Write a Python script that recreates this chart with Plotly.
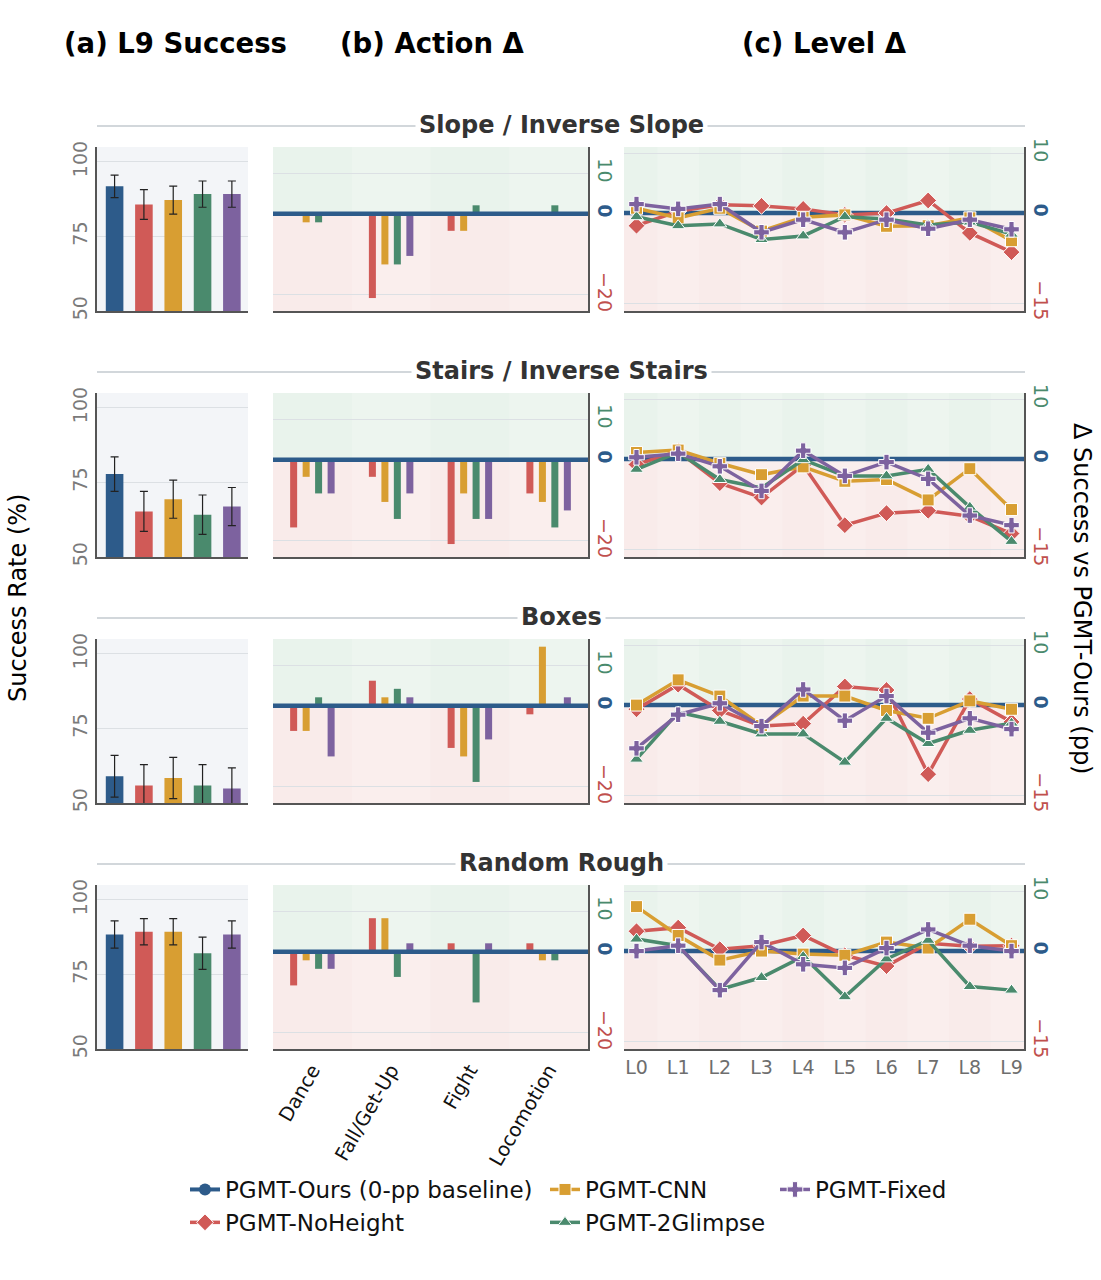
import plotly.graph_objects as go

W, H = 1101, 1280
FONT = "DejaVu Sans"

# ---------------- data ----------------
models = ["PGMT-Ours", "PGMT-NoHeight", "PGMT-CNN", "PGMT-2Glimpse", "PGMT-Fixed"]
delta_models = ["PGMT-NoHeight", "PGMT-CNN", "PGMT-2Glimpse", "PGMT-Fixed"]
terrains = ["Slope / Inverse Slope", "Stairs / Inverse Stairs", "Boxes", "Random Rough"]
actions = ["Dance", "Fall/Get-Up", "Fight", "Locomotion"]
levels = ["L0", "L1", "L2", "L3", "L4", "L5", "L6", "L7", "L8", "L9"]

# (a) L9 success (%) and error, order = models
slope_l9 = [91.8, 85.7, 87.2, 89.2, 89.2]
slope_l9_err = [3.8, 5.0, 4.7, 4.4, 4.4]
stairs_l9 = [77.8, 65.3, 69.4, 64.2, 66.9]
stairs_l9_err = [5.8, 6.7, 6.4, 6.6, 6.4]
boxes_l9 = [59.0, 55.9, 58.4, 55.9, 54.9]
boxes_l9_err = [7.0, 7.0, 6.9, 7.0, 6.9]
rough_l9 = [88.4, 89.3, 89.3, 82.1, 88.4]
rough_l9_err = [4.6, 4.4, 4.4, 5.4, 4.6]

# (b) action delta (pp) per delta_model, across actions
slope_action = [[0, -20.8, -4.2, 0], [-2.1, -12.5, -4.2, 0], [-2.1, -12.5, 2.1, 2.1], [0, -10.4, 0, 0]]
stairs_action = [[-16.7, -4.2, -20.8, -8.3], [-4.2, -10.4, -8.3, -10.4], [-8.3, -14.6, -14.6, -16.7], [-8.3, -8.3, -14.6, -12.5]]
boxes_action = [[-6.2, 6.2, -10.4, -2.1], [-6.2, 2.1, -12.5, 14.6], [2.1, 4.2, -18.8, 0], [-12.5, 2.1, -8.3, 2.1]]
rough_action = [[-8.3, 8.3, 2.1, 2.1], [-2.1, 8.3, 0, -2.1], [-4.2, -6.2, -12.5, -2.1], [-4.2, 2.1, 2.1, 0]]

# (c) level delta (pp) per delta_model, across levels
slope_level = [
    [-2.1, 0.3, 1.4, 1.2, 0.7, -0.3, 0.0, 2.1, -3.3, -6.5],
    [0.8, -0.8, 0.8, -3.0, -0.7, -0.3, -2.2, -2.1, -0.8, -4.6],
    [-0.6, -2.1, -1.8, -4.4, -3.8, -0.6, -1.0, -2.0, -1.5, -3.5],
    [1.5, 0.7, 1.5, -3.2, -1.1, -3.2, -1.1, -2.6, -1.1, -2.7],
]
stairs_level = [
    [-0.9, 1.3, -4.0, -6.4, -1.0, -11.0, -9.0, -8.6, -9.5, -12.4],
    [1.1, 1.5, -0.7, -2.6, -1.3, -3.7, -3.4, -6.8, -1.6, -8.4],
    [-1.7, 1.1, -3.4, -4.8, -0.1, -2.8, -2.8, -1.7, -8.0, -13.7],
    [0.3, 0.9, -1.2, -5.3, 1.4, -2.8, -0.5, -3.3, -9.4, -11.0],
]
boxes_level = [
    [-0.7, 3.4, -0.9, -3.5, -3.1, 3.1, 2.5, -11.5, 1.0, -2.8],
    [0.0, 4.2, 1.5, -3.4, 1.5, 1.5, -0.9, -2.2, 0.7, -0.7],
    [-9.0, -1.2, -2.7, -4.8, -4.8, -9.5, -2.2, -6.4, -4.2, -3.0],
    [-7.2, -1.6, 0.3, -3.5, 2.6, -2.6, 1.5, -4.6, -2.2, -4.0],
]
rough_level = [
    [3.3, 3.9, 0.3, 0.9, 2.6, -0.7, -2.5, 1.3, 0.8, 0.9],
    [7.4, 2.6, -1.5, 0.0, -0.5, -0.7, 1.5, 0.5, 5.3, 0.9],
    [2.0, 0.9, -6.4, -4.4, -0.9, -7.6, -1.3, 1.8, -5.9, -6.5],
    [0.0, 0.9, -6.5, 1.5, -2.2, -2.8, 0.5, 3.6, 0.9, 0.0],
]
baseline_delta = 0

bar_ticks = [50, 75, 100]
action_ticks = [-20, 0, 10]
level_ticks = [-15, 0, 10]

l9_sets = [(slope_l9, slope_l9_err), (stairs_l9, stairs_l9_err), (boxes_l9, boxes_l9_err), (rough_l9, rough_l9_err)]
action_sets = [slope_action, stairs_action, boxes_action, rough_action]
level_sets = [slope_level, stairs_level, boxes_level, rough_level]

# ---------------- style ----------------
BLUE, RED, ORANGE, GREEN, PURPLE = "#2D5B8A", "#D05A57", "#D89E32", "#4A8A6D", "#7D629F"
model_colors = [BLUE, RED, ORANGE, GREEN, PURPLE]
delta_colors = [RED, ORANGE, GREEN, PURPLE]
delta_symbols = ["diamond", "square", "triangle-up", "cross"]
delta_sizes = [13, 12, 12, 13]
legend_of = {"PGMT-NoHeight": "legend", "PGMT-CNN": "legend2", "PGMT-2Glimpse": "legend2", "PGMT-Fixed": "legend3"}

BAR_X = (97, 248)
ACT_X = (273, 588)
LVL_X = (624, 1024)
ROW_TOP0, ROW_STEP, ROW_H = 147, 246, 164
BAR_RANGE = [50, 105]
ACT_RANGE = [-24, 16.5]
LVL_RANGE = [-16.3, 11]
GREEN_BG, RED_BG, GRAY_BG = "#E9F3EC", "#F9EBEA", "#F3F5F8"
AXLINE = "#555555"
GRID = "#DCE0E4"
BAND_OPACITY = 0.18


def fx(px):
    return px / W


def fy(py):
    return 1 - py / H


def ax(k):
    return "" if k == 1 else str(k)


def colored_ticks(vals):
    out = []
    for v in vals:
        s = str(v).replace("-", "\u2212")
        if v > 0:
            out.append(f"<span style='color:{GREEN}'>{s}</span>")
        elif v < 0:
            out.append(f"<span style='color:#C0504D'>{s}</span>")
        else:
            out.append(f"<b><span style='color:{BLUE}'>{s}</span></b>")
    return out


fig = go.Figure()
layout = {}
shapes = []
annotations = []

act_w = 0.089
act_centers = [-0.238, -0.079, 0.079, 0.238]

for r in range(4):
    top = ROW_TOP0 + ROW_STEP * r
    ydom = [fy(top + ROW_H), fy(top)]
    kb, ka, kl = 3 * r + 1, 3 * r + 2, 3 * r + 3
    b, a, l = ax(kb), ax(ka), ax(kl)
    last = r == 3

    # --- (a) bar panel ---
    vals, errs = l9_sets[r]
    fig.add_trace(go.Bar(
        x=models, y=vals, xaxis=f"x{b}", yaxis=f"y{b}",
        marker=dict(color=model_colors, line=dict(width=0)),
        width=0.6, offset=-0.3,
        error_y=dict(type="data", array=errs, color="#222222", thickness=1.2, width=4),
        showlegend=False,
    ))
    layout[f"xaxis{b}"] = dict(domain=[fx(BAR_X[0]), fx(BAR_X[1])], anchor=f"y{b}", automargin=False,
                               range=[-0.6, 4.55], showticklabels=False, showgrid=False,
                               showline=True, linecolor=AXLINE, linewidth=2, zeroline=False,
                               categoryorder="array", categoryarray=models)
    layout[f"yaxis{b}"] = dict(domain=ydom, anchor=f"x{b}", range=BAR_RANGE, automargin=False,
                               tickvals=bar_ticks, tickangle=-90,
                               tickfont=dict(size=19, color="#7A7A7A"), gridcolor=GRID,
                               showline=True, linecolor=AXLINE, linewidth=2, zeroline=False, ticks="")
    shapes.append(dict(type="rect", xref=f"x{b} domain", yref=f"y{b} domain", x0=0, x1=1, y0=0, y1=1,
                       fillcolor=GRAY_BG, line=dict(width=0), layer="below"))

    # --- (b) action panel ---
    for i, m in enumerate(delta_models):
        fig.add_trace(go.Bar(
            x=actions, y=action_sets[r][i], xaxis=f"x{a}", yaxis=f"y{a}",
            marker=dict(color=delta_colors[i], line=dict(width=0)),
            width=act_w, offset=act_centers[i] - act_w / 2, name=m, showlegend=False,
        ))
    layout[f"xaxis{a}"] = dict(domain=[fx(ACT_X[0]), fx(ACT_X[1])], anchor=f"y{a}", automargin=False,
                               range=[-0.5, 3.5], showticklabels=last, tickangle=-60,
                               tickfont=dict(size=19.5, color="#111111"), showgrid=False,
                               showline=True, linecolor=AXLINE, linewidth=2, zeroline=False,
                               categoryorder="array", categoryarray=actions, ticks="")
    layout[f"yaxis{a}"] = dict(domain=ydom, anchor=f"x{a}", side="right", range=ACT_RANGE, automargin=False,
                               tickvals=action_ticks, ticktext=colored_ticks(action_ticks),
                               tickangle=90, tickfont=dict(size=19), showgrid=False,
                               minor=dict(tickvals=[v for v in action_ticks if v != 0], showgrid=True,
                                          gridcolor=GRID, gridwidth=1, ticks=""),
                               showline=True, linecolor=AXLINE, linewidth=2, zeroline=False, ticks="")
    shapes.append(dict(type="rect", xref=f"x{a} domain", yref=f"y{a}", x0=0, x1=1, y0=0, y1=ACT_RANGE[1],
                       fillcolor=GREEN_BG, line=dict(width=0), layer="below"))
    shapes.append(dict(type="rect", xref=f"x{a} domain", yref=f"y{a}", x0=0, x1=1, y0=ACT_RANGE[0], y1=0,
                       fillcolor=RED_BG, line=dict(width=0), layer="below"))
    for j in range(len(actions)):
        if j % 2 == 1:
            shapes.append(dict(type="rect", xref=f"x{a}", yref=f"y{a} domain", x0=j - 0.5, x1=j + 0.5,
                               y0=0, y1=1, fillcolor="white", opacity=BAND_OPACITY, line=dict(width=0), layer="below"))
    shapes.append(dict(type="line", xref=f"x{a} domain", yref=f"y{a}", x0=0, x1=1,
                       y0=baseline_delta, y1=baseline_delta, line=dict(color=BLUE, width=4.5), layer="above"))

    # --- (c) level panel ---
    for i, m in enumerate(delta_models):
        fig.add_trace(go.Scatter(
            x=levels, y=level_sets[r][i], xaxis=f"x{l}", yaxis=f"y{l}", mode="lines+markers",
            line=dict(color=delta_colors[i], width=3.5),
            marker=dict(symbol=delta_symbols[i], size=delta_sizes[i], color=delta_colors[i],
                        line=dict(color="white", width=1)),
            name=m, showlegend=(r == 0), legend=legend_of[m],
        ))
    layout[f"xaxis{l}"] = dict(domain=[fx(LVL_X[0]), fx(LVL_X[1])], anchor=f"y{l}", automargin=False,
                               range=[-0.3, 9.3], showticklabels=last,
                               tickfont=dict(size=19, color="#6E6E6E"), showgrid=False,
                               showline=True, linecolor=AXLINE, linewidth=2, zeroline=False,
                               categoryorder="array", categoryarray=levels, ticks="")
    layout[f"yaxis{l}"] = dict(domain=ydom, anchor=f"x{l}", side="right", range=LVL_RANGE, automargin=False,
                               tickvals=level_ticks, ticktext=colored_ticks(level_ticks),
                               tickangle=90, tickfont=dict(size=19), showgrid=False,
                               minor=dict(tickvals=[v for v in level_ticks if v != 0], showgrid=True,
                                          gridcolor=GRID, gridwidth=1, ticks=""),
                               showline=True, linecolor=AXLINE, linewidth=2, zeroline=False, ticks="")
    shapes.append(dict(type="rect", xref=f"x{l} domain", yref=f"y{l}", x0=0, x1=1, y0=0, y1=LVL_RANGE[1],
                       fillcolor=GREEN_BG, line=dict(width=0), layer="below"))
    shapes.append(dict(type="rect", xref=f"x{l} domain", yref=f"y{l}", x0=0, x1=1, y0=LVL_RANGE[0], y1=0,
                       fillcolor=RED_BG, line=dict(width=0), layer="below"))
    for j in range(len(levels)):
        if j % 2 == 1:
            shapes.append(dict(type="rect", xref=f"x{l}", yref=f"y{l} domain", x0=j - 0.5, x1=j + 0.5,
                               y0=0, y1=1, fillcolor="white", opacity=BAND_OPACITY, line=dict(width=0), layer="below"))
    shapes.append(dict(type="line", xref=f"x{l} domain", yref=f"y{l}", x0=0, x1=1,
                       y0=baseline_delta, y1=baseline_delta, line=dict(color=BLUE, width=4.5), layer="below"))

    # --- row title ---
    shapes.append(dict(type="line", xref="paper", yref="paper", x0=fx(97), x1=fx(1025),
                       y0=fy(top - 21), y1=fy(top - 21), line=dict(color="#D2D7DB", width=2), layer="below"))
    annotations.append(dict(text=f"<b>{terrains[r]}</b>", x=fx(561), y=fy(top - 22), xref="paper", yref="paper",
                            xanchor="center", yanchor="middle", showarrow=False, bgcolor="white", borderpad=3,
                            font=dict(size=24, color="#333333", family=FONT)))

# legend-only entry for baseline
fig.add_trace(go.Scatter(x=[None], y=[None], xaxis="x3", yaxis="y3", mode="lines+markers",
                         line=dict(color=BLUE, width=4), marker=dict(symbol="circle", size=12, color=BLUE),
                         name="PGMT-Ours (0-pp baseline)", legend="legend", legendrank=1))

for tr in fig.data:
    if tr.name == "PGMT-NoHeight":
        tr.legendrank = 2

for txt, px in [("(a) L9 Success", 62), ("(b) Action \u0394", 338), ("(c) Level \u0394", 740)]:
    annotations.append(dict(text=f"<b>{txt}</b>", x=fx(px), y=fy(43), xref="paper", yref="paper",
                            xanchor="left", yanchor="middle", showarrow=False,
                            font=dict(size=27.5, color="#000000", family=FONT)))

annotations.append(dict(text="Success Rate (%)", x=fx(18), y=fy(598), xref="paper", yref="paper",
                        xanchor="center", yanchor="middle", textangle=-90, showarrow=False,
                        font=dict(size=24, color="#000000", family=FONT)))
annotations.append(dict(text="\u0394 Success vs PGMT-Ours (pp)", x=fx(1082), y=fy(598), xref="paper", yref="paper",
                        xanchor="center", yanchor="middle", textangle=90, showarrow=False,
                        font=dict(size=24, color="#000000", family=FONT)))

leg_common = dict(xanchor="left", yanchor="top", bgcolor="rgba(0,0,0,0)", font=dict(size=23, color="#111111", family=FONT),
                  tracegroupgap=0, itemwidth=30, orientation="v")

fig.update_layout(
    width=W, height=H, margin=dict(l=0, r=0, t=0, b=0, autoexpand=False),
    paper_bgcolor="white", plot_bgcolor="rgba(0,0,0,0)",
    font=dict(family=FONT, color="#333333"),
    barmode="overlay",
    shapes=shapes, annotations=annotations,
    legend=dict(x=fx(185), y=fy(1168), **leg_common),
    legend2=dict(x=fx(545), y=fy(1168), **leg_common),
    legend3=dict(x=fx(775), y=fy(1168), **leg_common),
    **layout,
)

fig.write_html("out.html", config={"displayModeBar": False},
               post_script="document.body.style.margin='0';document.body.style.overflow='hidden';")
